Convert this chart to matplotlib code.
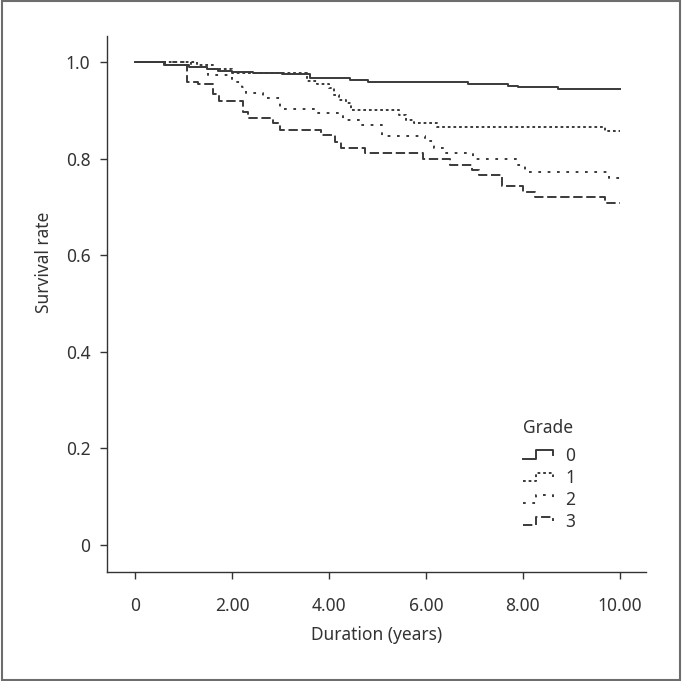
import matplotlib
matplotlib.use("Agg")
import matplotlib.pyplot as plt
import matplotlib.patches as mpatches
from matplotlib.lines import Line2D
from matplotlib.legend_handler import HandlerBase

plt.rcParams['font.family'] = ['Noto Sans', 'DejaVu Sans']

# Kaplan-Meier steps (time of each drop, survival after it)
grade0_t = [0, 0.6, 1.12, 1.49, 1.71, 2.0, 2.44, 3.03, 3.62, 4.43, 4.8, 6.86, 7.7, 7.9, 8.72, 10.0]
grade0_s = [1.0, 0.995, 0.990, 0.985, 0.982, 0.980, 0.977, 0.975, 0.968, 0.964, 0.959, 0.954, 0.950, 0.948, 0.944, 0.944]

grade1_t = [0, 1.28, 1.6, 2.0, 3.55, 3.75, 4.0, 4.1, 4.2, 4.35, 4.45, 5.45, 5.6, 5.75, 6.22, 9.7, 10.0]
grade1_s = [1.0, 0.995, 0.985, 0.977, 0.962, 0.955, 0.946, 0.932, 0.921, 0.915, 0.901, 0.890, 0.880, 0.874, 0.866, 0.858, 0.858]

grade2_t = [0, 1.15, 1.5, 2.0, 2.2, 2.3, 2.65, 3.0, 3.77, 4.3, 4.65, 5.1, 5.98, 6.16, 6.38, 6.97, 7.9, 8.05, 9.77, 10.0]
grade2_s = [1.0, 0.990, 0.973, 0.959, 0.948, 0.937, 0.925, 0.904, 0.894, 0.881, 0.870, 0.848, 0.836, 0.822, 0.811, 0.799, 0.786, 0.773, 0.761, 0.761]

grade3_t = [0, 0.62, 1.07, 1.29, 1.6, 1.74, 2.22, 2.33, 2.85, 3.0, 3.83, 4.12, 4.25, 4.75, 5.95, 6.5, 6.95, 7.1, 7.58, 8.0, 8.25, 9.7, 10.0]
grade3_s = [1.0, 0.995, 0.959, 0.954, 0.935, 0.920, 0.897, 0.884, 0.873, 0.860, 0.849, 0.835, 0.822, 0.811, 0.800, 0.787, 0.776, 0.766, 0.744, 0.732, 0.721, 0.708, 0.708]

grade_labels = ["0", "1", "2", "3"]
x_ticks = [0, 2, 4, 6, 8, 10]
x_tick_labels = ["0", "2.00", "4.00", "6.00", "8.00", "10.00"]
y_ticks = [0, 0.2, 0.4, 0.6, 0.8, 1.0]
y_tick_labels = ["0", "0.2", "0.4", "0.6", "0.8", "1.0"]

TEXT = "#333333"
LINE = "#3a3a3a"
# dash patterns, in units of line width
STYLES = [None, (1.4, 1.5), (1.4, 3.4), (4.8, 1.9)]


class StepHandler(HandlerBase):
    """Little step-shaped legend key like the one SPSS draws."""
    def create_artists(self, legend, orig_handle, xdescent, ydescent,
                       width, height, fontsize, trans):
        x0 = -xdescent
        xs = [x0, x0 + 0.45 * width, x0 + 0.45 * width, x0 + width, x0 + width]
        ys = [0.15 * height, 0.15 * height, 0.85 * height, 0.85 * height, 0.5 * height]
        line = Line2D(xs, ys)
        line.update_from(orig_handle)
        line.set_transform(trans)
        return [line]


fig = plt.figure(figsize=(6.82, 6.81), dpi=100)
ax = fig.add_axes([0.1569, 0.160, 0.7903, 0.787])

series = [(grade0_t, grade0_s), (grade1_t, grade1_s), (grade2_t, grade2_s), (grade3_t, grade3_s)]
handles = []
for (t, s), lab, dash in zip(series, grade_labels, STYLES):
    line, = ax.step(t, s, where="post", color=LINE, linewidth=1.4, label=lab)
    if dash is not None:
        line.set_dashes(dash)
    handles.append(line)

ax.set_xlim(-0.577, 10.54)
ax.set_ylim(-0.056, 1.054)

ax.set_xticks(x_ticks)
ax.set_xticklabels(x_tick_labels)
ax.set_yticks(y_ticks)
ax.set_yticklabels(y_tick_labels)

for side in ["top", "right"]:
    ax.spines[side].set_visible(False)
for side in ["left", "bottom"]:
    ax.spines[side].set_color(TEXT)
    ax.spines[side].set_linewidth(1.0)

ax.tick_params(axis="both", direction="out", length=5, width=1.0, color=TEXT,
               labelcolor=TEXT, labelsize=12.5)
ax.tick_params(axis="x", pad=13)
ax.tick_params(axis="y", pad=7)

ax.set_xlabel("Duration (years)", fontsize=12.5, color=TEXT)
ax.set_ylabel("Survival rate", fontsize=12.5, color=TEXT)
ax.xaxis.set_label_coords(0.5, -0.100)
ax.yaxis.set_label_coords(-0.100, 0.578)

leg = ax.legend(handles=handles, title="Grade", loc="upper left",
                bbox_to_anchor=(523 / 682, 1 - 419 / 681), bbox_transform=fig.transFigure,
                frameon=False, fontsize=12.5, title_fontsize=12.5,
                handlelength=1.7, handletextpad=0.75, labelspacing=0.24,
                borderpad=0, borderaxespad=0, alignment="left",
                handler_map={Line2D: StepHandler()})
for txt in leg.get_texts():
    txt.set_color(TEXT)
leg.get_title().set_color(TEXT)
# a bit more room under the title, as in the original
leg._legend_box.sep = 7

# grey frame round the whole picture
fig.patches.append(mpatches.Rectangle((0.0022, 0.0022), 0.9956, 0.9956, transform=fig.transFigure,
                                      fill=False, edgecolor="#6d6d6d", linewidth=1.5))

fig.savefig("out.png", dpi=100)
